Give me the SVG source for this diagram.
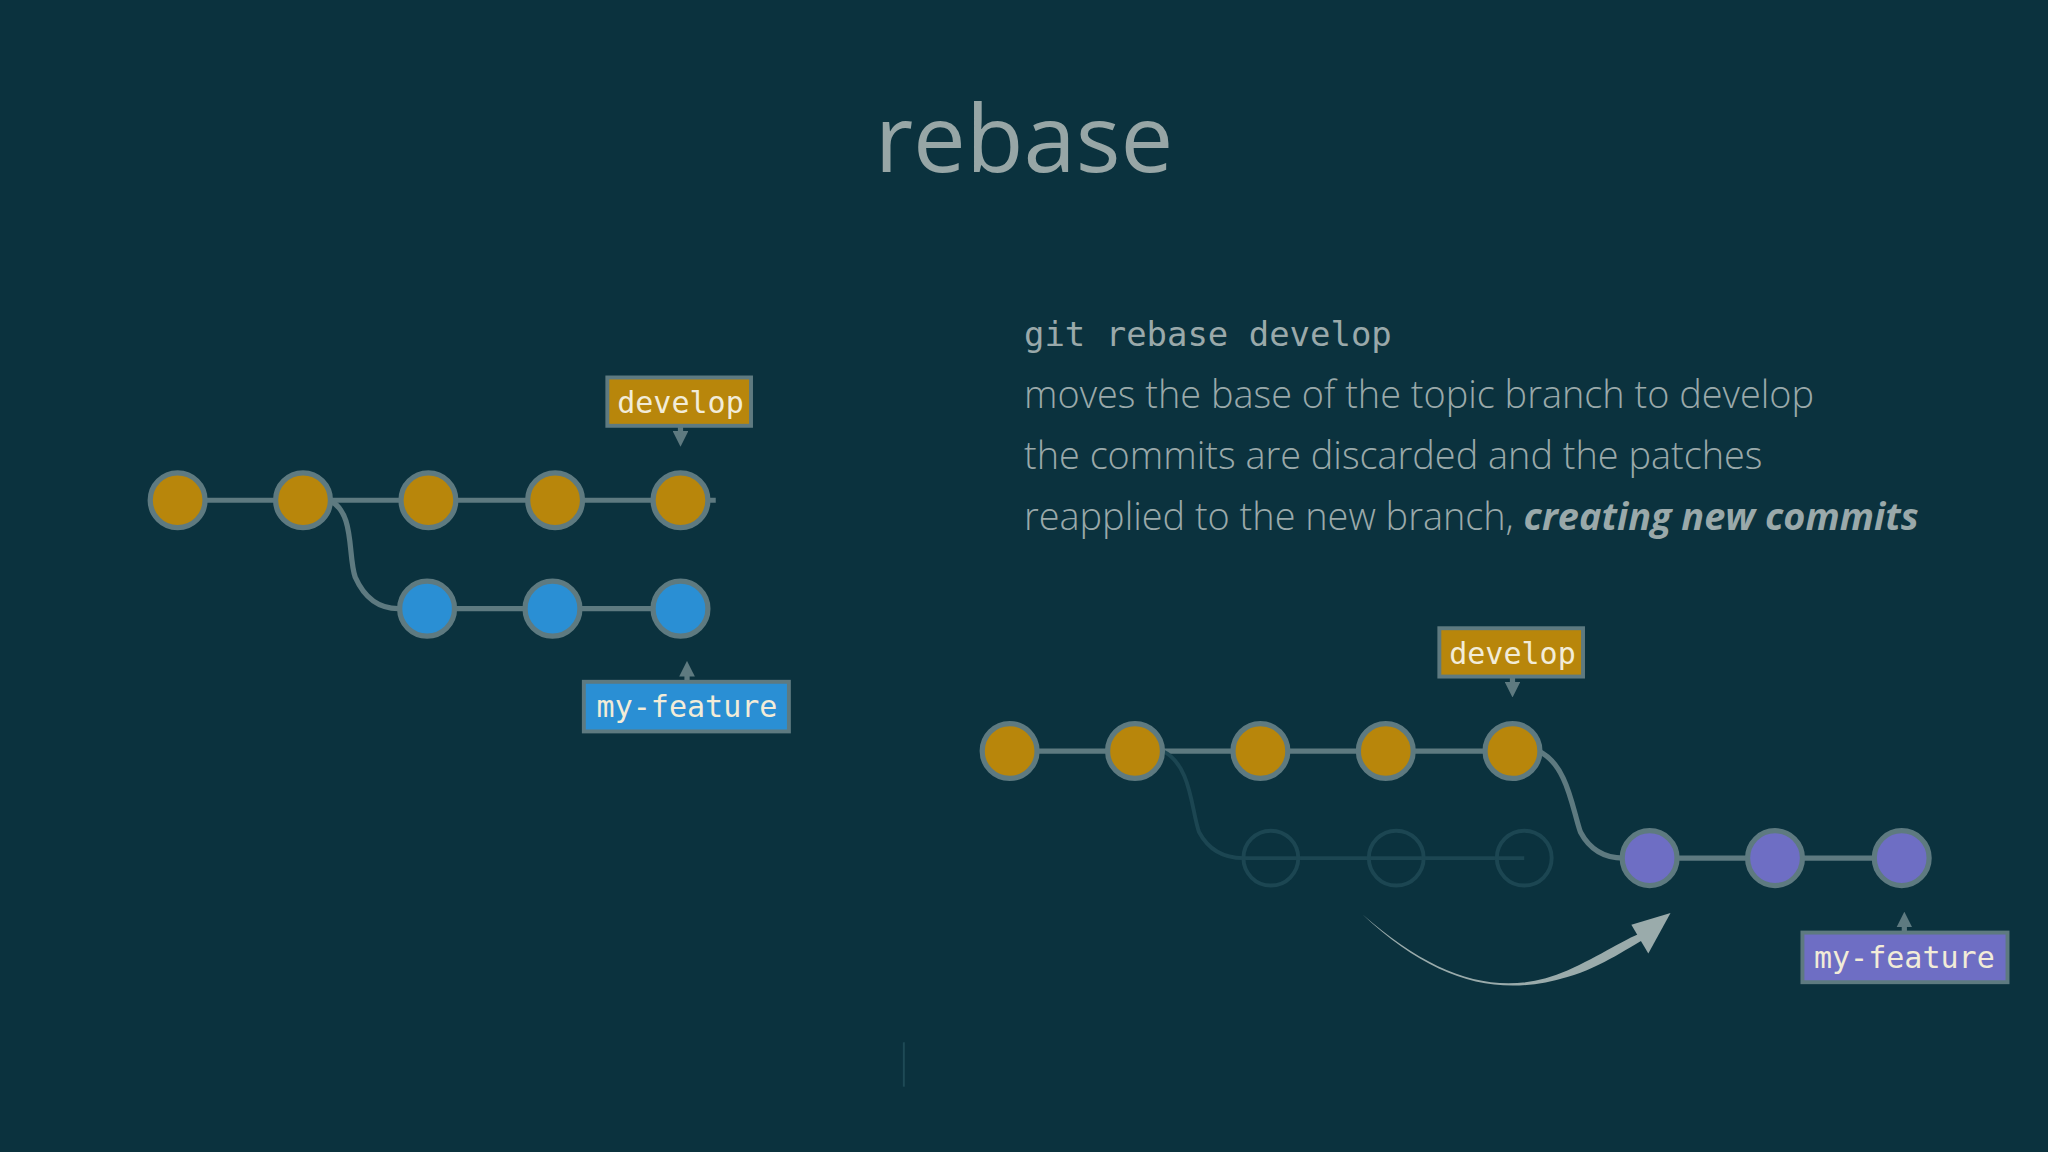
<svg xmlns="http://www.w3.org/2000/svg" width="2048" height="1152" viewBox="0 0 2048 1152">
<defs>
<style>
.c{stroke:#5e7a80;stroke-width:4}
.o{fill:#b8860b}.b{fill:#2a8fd4}.p{fill:#6e6ec4}
.g{fill:none;stroke:#1c4652;stroke-width:3}
.ln{stroke:#5e7a80;stroke-width:4;fill:none}
.lbl{font-family:"DejaVu Sans Mono","Liberation Mono",monospace;font-size:23px;fill:#f2ecd8;text-anchor:middle}
.box{stroke:#5e7a80;stroke-width:3}
.txt{font-family:"Open Sans","Noto Sans",sans-serif;font-size:29px;fill:#9aa9aa;font-weight:300}
</style>
<marker id="tip" viewBox="0 0 10 10" refX="5" refY="5" markerWidth="3" markerHeight="3" orient="auto"><path d="M0,0L10,5L0,10z" fill="#5e7a80"/></marker>
</defs>
<rect width="2048" height="1152" fill="#0b323e"/>
<g transform="scale(1.30612)">
<text x="784" y="132" text-anchor="middle" font-family="Open Sans,sans-serif" font-size="72" fill="#97a6a6">rebase</text>
<text x="784" y="265" font-family="DejaVu Sans Mono,monospace" font-size="26" fill="#9aa9aa">git rebase develop</text>
<text class="txt" x="784" y="312">moves the base of the topic branch to develop</text>
<text class="txt" x="784" y="359">the commits are discarded and the patches</text>
<text class="txt" x="784" y="406">reapplied to the new branch, <tspan font-weight="700" font-style="italic">creating new commits</tspan></text>
<g id="connectors">
<path class="ln" d="M136 383H548"/>
<path class="ln" d="M252 383C272 392 266 425 272 442C280 460 292 466 305 466H521"/>
<path class="ln" d="M773 575H1158"/>
<path class="g" d="M890 575C912 585 912 620 918 637C926 652 938 657 952 657H1167" stroke-width="4"/>
<path class="ln" d="M1178 575C1200 585 1204 620 1210 637C1218 652 1230 657 1243 657H1456"/>
<path class="ln" d="M521 327V336" stroke-width="2.5" marker-end="url(#tip)"/>
<path class="ln" d="M526 521V512" stroke-width="2.5" marker-end="url(#tip)"/>
<path class="ln" d="M1158 519V528" stroke-width="2.5" marker-end="url(#tip)"/>
<path class="ln" d="M1458 713V704" stroke-width="2.5" marker-end="url(#tip)"/>
<path d="M1043 700C1100 750 1150 765 1200 743C1225 732 1245 718 1262 712L1265 716C1248 724 1228 740 1200 748C1148 764 1098 752 1043 700Z" fill="#9aabab"/>
<path d="M1279 699L1249 708L1262 730Z" fill="#9aabab"/>
<path d="M692 798V832" stroke="#1e4a56" stroke-width="1.5"/>
</g>
<g id="left-develop"><circle class="c o" cx="136" cy="383" r="21"/><circle class="c o" cx="232" cy="383" r="21"/><circle class="c o" cx="328" cy="383" r="21"/><circle class="c o" cx="425" cy="383" r="21"/><circle class="c o" cx="521" cy="383" r="21"/></g>
<g id="left-feature"><circle class="c b" cx="327" cy="466" r="21"/><circle class="c b" cx="423" cy="466" r="21"/><circle class="c b" cx="521" cy="466" r="21"/></g>
<g id="label-develop-left"><rect class="box o" x="465" y="289" width="110" height="37"/><text class="lbl" x="521" y="316">develop</text></g>
<g id="label-feature-left"><rect class="box b" x="447" y="522" width="157" height="38"/><text class="lbl" x="526" y="549">my-feature</text></g>
<g id="right-develop"><circle class="c o" cx="773" cy="575" r="21"/><circle class="c o" cx="869" cy="575" r="21"/><circle class="c o" cx="965" cy="575" r="21"/><circle class="c o" cx="1061" cy="575" r="21"/><circle class="c o" cx="1158" cy="575" r="21"/></g>
<g id="ghost"><circle class="g" cx="973" cy="657" r="21" fill="#0b323e"/><circle class="g" cx="1069" cy="657" r="21" fill="#0b323e"/><circle class="g" cx="1167" cy="657" r="21" fill="#0b323e"/></g>
<g id="right-feature"><circle class="c p" cx="1263" cy="657" r="21"/><circle class="c p" cx="1359" cy="657" r="21"/><circle class="c p" cx="1456" cy="657" r="21"/></g>
<g id="label-develop-right"><rect class="box o" x="1102" y="481" width="110" height="37"/><text class="lbl" x="1158" y="508">develop</text></g>
<g id="label-feature-right"><rect class="box p" x="1380" y="714" width="157" height="38"/><text class="lbl" x="1458" y="741">my-feature</text></g>
</g>
</svg>
